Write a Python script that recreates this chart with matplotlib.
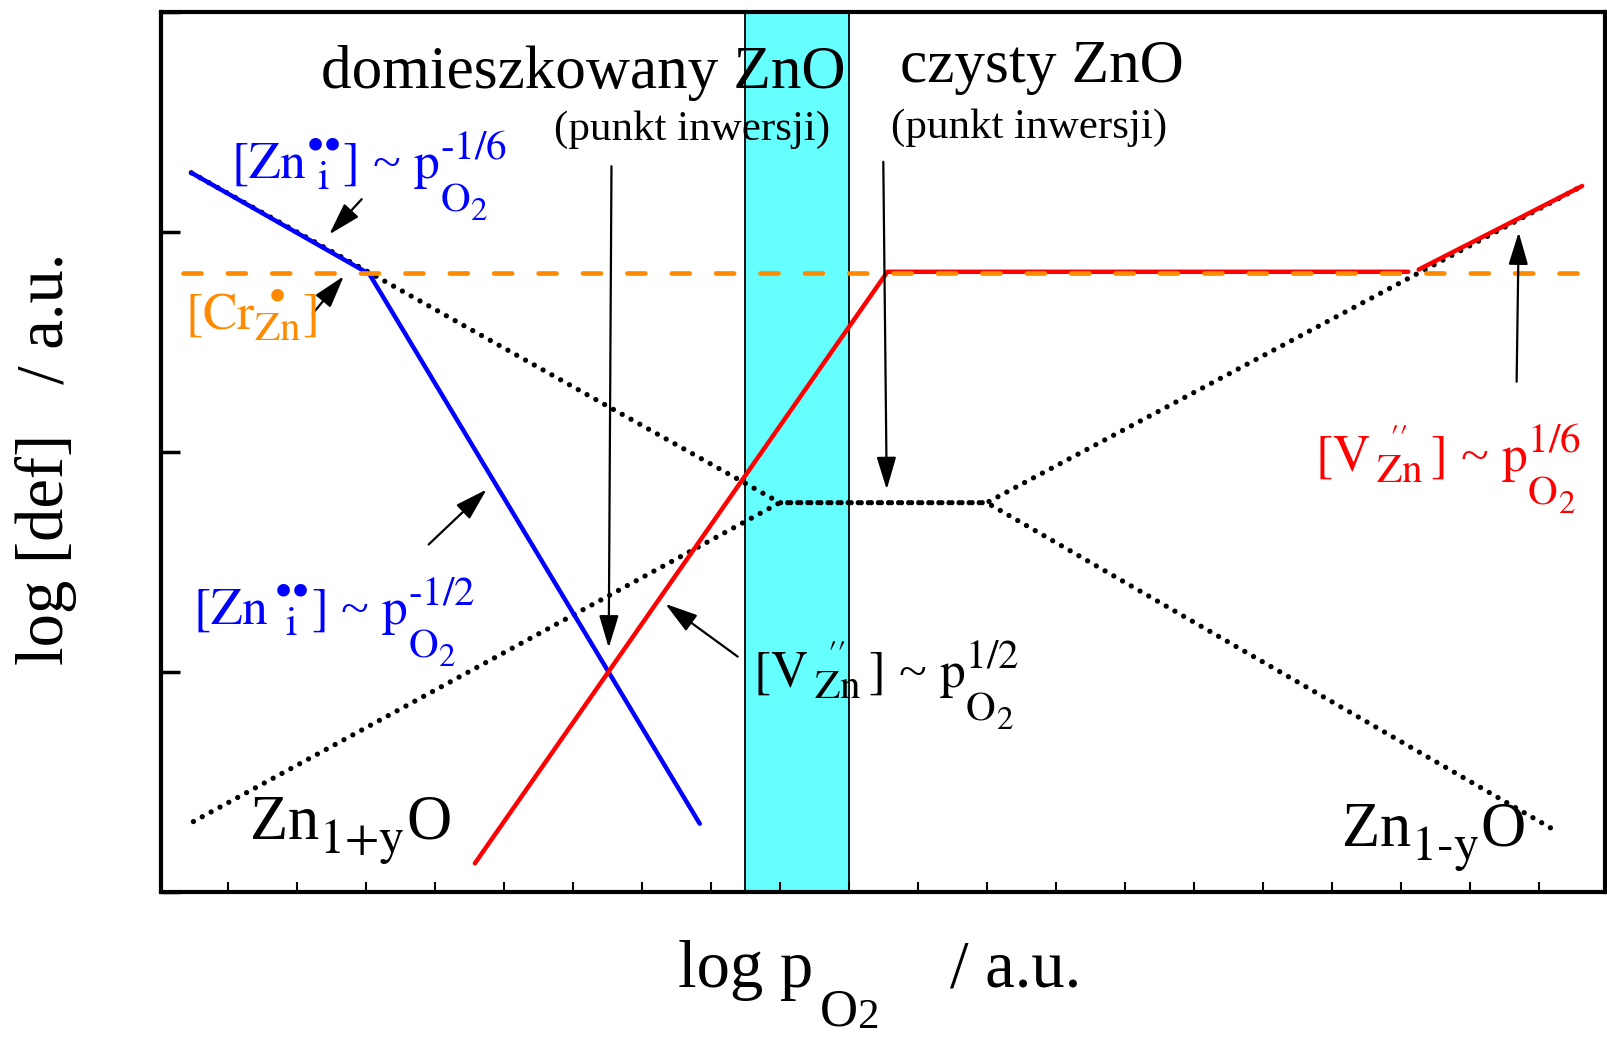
import matplotlib.pyplot as plt
import matplotlib._mathtext as mathtext_impl

plt.rcParams['font.family'] = ['Liberation Serif', 'DejaVu Serif']
plt.rcParams['mathtext.fontset'] = 'stix'

# bigger, more spread out sub/superscripts
mathtext_impl.SHRINK_FACTOR = 0.8
mathtext_impl.STIXFontConstants.sub1 = 0.5
mathtext_impl.STIXFontConstants.sub2 = 1.45
mathtext_impl.STIXFontConstants.sup1 = 0.8

# dotted reference lines for pure ZnO (Zn_i and V_Zn)
zni_dot_x = [0.47, 9.0, 12.0, 20.29]
zni_dot_y = [3.27, 1.77, 1.77, 0.27]
vzn_dot_x = [0.50, 9.0, 12.0, 20.63]
vzn_dot_y = [0.32, 1.77, 1.77, 3.21]

# doped ZnO: interstitial zinc (blue)
zni_x = [0.47, 3.05, 7.84]
zni_y = [3.27, 2.81, 0.31]

# doped ZnO: zinc vacancies (red)
vzn_x = [4.58, 10.56, 18.11]
vzn_y = [0.13, 2.82, 2.82]
vzn_hi_x = [18.26, 20.63]
vzn_hi_y = [2.83, 3.21]

# dopant level [Cr_Zn]
cr_x = [0.35, 20.63]
cr_level = 2.813

# region between the two inversion points
band = (8.5, 10.0)

fig = plt.figure(figsize=(16.08, 10.38), dpi=100)
ax = fig.add_axes([0.1001, 0.1407, 0.898, 0.8475])

ax.axvspan(band[0], band[1], facecolor='#66ffff', edgecolor='black', lw=1.3, zorder=1)

dots = (0, (0.01, 1.9))
ax.plot(zni_dot_x, zni_dot_y, color='black', lw=3.8, linestyle=dots,
        dash_capstyle='round', zorder=2)
ax.plot(vzn_dot_x, vzn_dot_y, color='black', lw=3.8, linestyle=dots,
        dash_capstyle='round', zorder=2)

ax.plot(zni_x, zni_y, color='#0000ff', lw=3.2, solid_capstyle='round', zorder=3)
ax.plot(vzn_x, vzn_y, color='#ff0000', lw=3.2, solid_capstyle='round', zorder=3)
ax.plot(vzn_hi_x, vzn_hi_y, color='#ff0000', lw=3.2, solid_capstyle='round', zorder=3)

ax.plot(cr_x, [cr_level, cr_level], color='#ff8a00', lw=3.4,
        linestyle=(0, (3.8, 5.6)), dash_capstyle='round', zorder=4)

# arrows pointing at the curves
arrow_kw = dict(arrowstyle='-|>,head_length=1.0,head_width=0.3', color='black',
                lw=1.6, mutation_scale=20, shrinkA=0, shrinkB=0)
arrows = [
    ((6.56, 3.30), (6.52, 1.11)),
    ((10.50, 3.32), (10.55, 1.83)),
    ((19.68, 2.32), (19.71, 3.00)),
    ((2.94, 3.15), (2.47, 2.99)),
    ((2.23, 2.63), (2.68, 2.80)),
    ((3.91, 1.58), (4.75, 1.83)),
    ((8.39, 1.07), (7.34, 1.31)),
]
for tail, head in arrows:
    ax.annotate('', xy=head, xytext=tail, arrowprops=arrow_kw, zorder=5)

txt = dict(ha='left', va='baseline', zorder=6)
ax.text(2.35, 3.655, 'domieszkowany ZnO', fontsize=44, **txt)
ax.text(10.74, 3.685, 'czysty ZnO', fontsize=44, **txt)
ax.text(5.72, 3.42, '(punkt inwersji)', fontsize=31, **txt)
ax.text(10.61, 3.43, '(punkt inwersji)', fontsize=31, **txt)

BUL = '\u2022'
HYPH = '\u2010'
zni = r'$[\mathrm{Zn}_{\overset{' + BUL + BUL + r'}{\mathrm{i}}}]$'
zni_sp = r'$[\mathrm{Zn}\,_{\overset{' + BUL + BUL + r'}{\mathrm{i}}}]$'
vzn = r'$[\mathrm{V}\,_{\overset{\prime\prime}{\mathrm{Zn}}}\,]$'
cr = r'$[\mathrm{Cr}_{\overset{' + BUL + r'}{\mathrm{Zn}}}]$'


def p_o2(power):
    return r'$\mathrm{p}_{\mathrm{O}_2}^{\mathrm{' + power + '}}$'


ax.text(1.045, 3.245, zni + ' ~ ' + p_o2(HYPH + '1/6'),
        fontsize=37, color='#0000ff', **txt)
ax.text(0.383, 2.561, cr, fontsize=37, color='#ff8a00', **txt)
ax.text(0.496, 1.217, zni_sp + ' ~ ' + p_o2(HYPH + '1/2'),
        fontsize=37, color='#0000ff', **txt)
ax.text(8.61, 0.93, vzn + ' ~ ' + p_o2('1/2'),
        fontsize=37, color='black', **txt)
ax.text(16.76, 1.91, vzn + ' ~ ' + p_o2('1/6'),
        fontsize=37, color='#ff0000', **txt)

ax.text(1.30, 0.243, r'Zn$_{\mathrm{1{+}y}}$O', fontsize=45, **txt)
ax.text(17.14, 0.21, r'Zn$_{\mathrm{1' + HYPH + r'y}}$O', fontsize=45, **txt)

ax.set_xlim(0.03, 20.96)
ax.set_ylim(0, 4.0)
ax.set_xticks(range(1, 21))
ax.set_yticks(range(0, 5))
ax.tick_params(axis='x', direction='in', length=7, width=1.5, labelbottom=False)
ax.tick_params(axis='y', direction='in', length=14, width=2.5, labelleft=False)
for sp in ax.spines.values():
    sp.set_linewidth(3)


def fig_text(px, py, s, size, **kw):
    # place text by pixel position (from top-left) of its baseline start
    fig.text(px / 1608, 1 - py / 1038, s, fontsize=size, ha='left', va='baseline', **kw)


# x axis title, with the O2 subscript set by hand
fig_text(678, 987, 'log p', 48)
fig_text(820, 1025, 'O', 38)
fig_text(857, 1028, '2', 31)
fig_text(950, 987, '/ a.u.', 48)

# y axis title
fig.text(63 / 1608, 1 - 665 / 1038, 'log [def]   / a.u.', fontsize=48,
         rotation=90, rotation_mode='anchor', ha='left', va='baseline')

fig.savefig('out.png', dpi=100)
